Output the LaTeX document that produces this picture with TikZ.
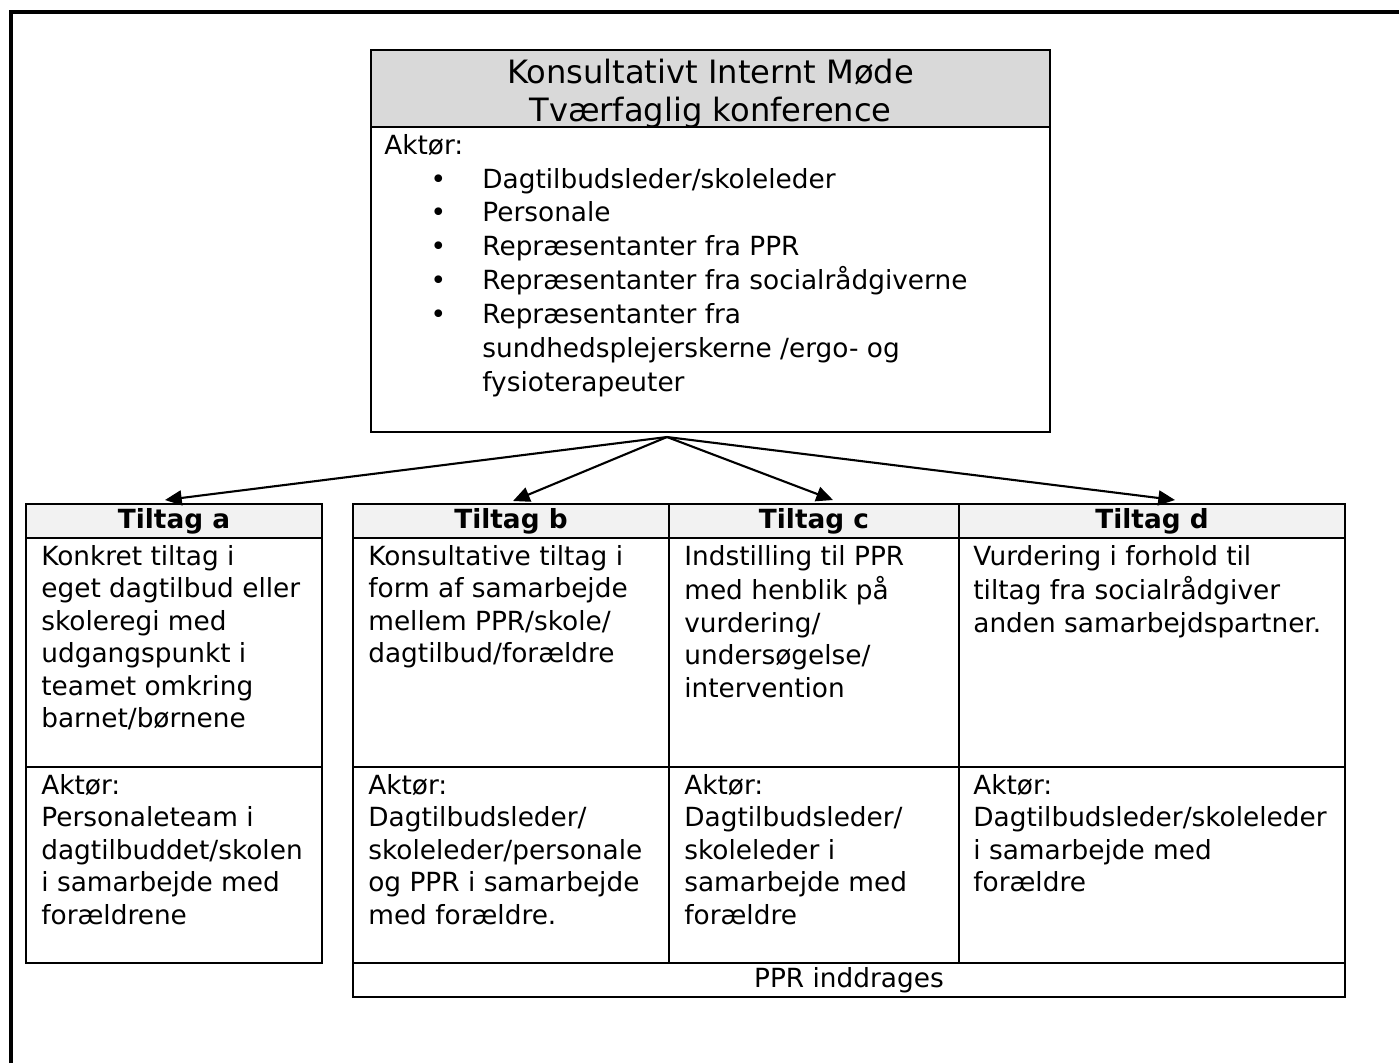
\documentclass[tikz,border=0pt]{standalone}
\usepackage{fontspec}
\setmainfont{DejaVu Sans}
\usepackage{tikz}
\usetikzlibrary{arrows.meta}
\definecolor{hovedgraa}{HTML}{D9D9D9}
\definecolor{lysgraa}{HTML}{F2F2F2}
\newcommand{\pkt}{\hspace*{25.7pt}\makebox[10pt][c]{•}\hspace*{20.1pt}}
\newcommand{\fort}{\hspace*{55.8pt}}

\begin{document}
\begin{tikzpicture}[x=0.02cm, y=-0.02cm,
    box/.style 2 args={draw, line width=1.4pt, inner sep=0pt, outer sep=0pt, anchor=north west,
        minimum width=#1*0.02cm, minimum height=#2*0.02cm},
    txt/.style={anchor=north west, inner sep=0pt, align=left, font=\fontsize{15}{18.5}\selectfont},
    head/.style={font=\bfseries\fontsize{15}{18.5}\selectfont},
    pil/.style={-{Triangle[length=9.5pt,width=8.5pt]}, line width=1.2pt}]
    \useasboundingbox (0,0) rectangle (1399,1063);
    % ramme
    \draw [line width=1.8pt] (11,1063) -- (11,12) -- (1399,12);
    % moedet
    \node [box={679}{77}, fill=hovedgraa] (mode) at (371,50) {};
    \node [box={679}{305}] (modebund) at (371,127) {};
    \node [align=center, font=\fontsize{18.3}{21.5}\selectfont] (titel) at ([yshift=-3]mode.center) {Konsultativt Internt Møde\\Tværfaglig konference};
    \node [txt, font=\fontsize{15}{19.3}\selectfont] (aktorer) at ([shift={(13,3)}]modebund.north west) {\strut Aktør:\\
        \pkt Dagtilbudsleder/skoleleder\\
        \pkt Personale\\
        \pkt Repræsentanter fra PPR\\
        \pkt Repræsentanter fra socialrådgiverne\\
        \pkt Repræsentanter fra\\
        \fort sundhedsplejerskerne /ergo- og\\
        \fort fysioterapeuter};
    % tiltag a
    \node [box={296}{34}, fill=lysgraa, head] (ha) at (26,504) {Tiltag a};
    \node [box={296}{229}] (ta) at (26,538) {};
    \node [box={296}{196}] (aa) at (26,767) {};
    \node [txt] (tekstA) at ([shift={(15,4)}]ta.north west) {\strut Konkret tiltag i\\eget dagtilbud eller\\skoleregi med\\udgangspunkt i\\teamet omkring\\barnet/børnene};
    \node [txt] (aktorA) at ([shift={(15,4)}]aa.north west) {\strut Aktør:\\Personaleteam i\\dagtilbuddet/skolen\\i samarbejde med\\forældrene};
    % tiltag b
    \node [box={316}{34}, fill=lysgraa, head] (hb) at (353,504) {Tiltag b};
    \node [box={316}{229}] (tb) at (353,538) {};
    \node [box={316}{196}] (ab) at (353,767) {};
    \node [txt] (tekstB) at ([shift={(15,4)}]tb.north west) {\strut Konsultative tiltag i\\form af samarbejde\\mellem PPR/skole/\\dagtilbud/forældre};
    \node [txt] (aktorB) at ([shift={(15,4)}]ab.north west) {\strut Aktør:\\Dagtilbudsleder/\\skoleleder/personale\\og PPR i samarbejde\\med forældre.};
    % tiltag c
    \node [box={290}{34}, fill=lysgraa, head] (hc) at (669,504) {Tiltag c};
    \node [box={290}{229}] (tc) at (669,538) {};
    \node [box={290}{196}] (ac) at (669,767) {};
    \node [txt] (tekstC) at ([shift={(15,4)}]tc.north west) {\strut Indstilling til PPR\\med henblik på\\vurdering/\\undersøgelse/\\intervention};
    \node [txt] (aktorC) at ([shift={(15,4)}]ac.north west) {\strut Aktør:\\Dagtilbudsleder/\\skoleleder i\\samarbejde med\\forældre};
    % tiltag d
    \node [box={386}{34}, fill=lysgraa, head] (hd) at (959,504) {Tiltag d};
    \node [box={386}{229}] (td) at (959,538) {};
    \node [box={386}{196}] (ad) at (959,767) {};
    \node [txt] (tekstD) at ([shift={(14,4)}]td.north west) {\strut Vurdering i forhold til\\tiltag fra socialrådgiver\\anden samarbejdspartner.};
    \node [txt] (aktorD) at ([shift={(14,4)}]ad.north west) {\strut Aktør:\\Dagtilbudsleder/skoleleder\\i samarbejde med\\forældre};
    % PPR
    \node [box={992}{34}, font=\fontsize{15}{18.5}\selectfont] (ppr) at (353,963) {PPR inddrages};
    % pile
    \coordinate (fra) at (667,437);
    \draw [pil] (fra) -- ([shift={(-9,-4)}]ha.north);
    \draw [pil] (fra) -- ([shift={(2,-3)}]hb.north);
    \draw [pil] (fra) -- ([shift={(19,-4)}]hc.north);
    \draw [pil] (fra) -- ([shift={(23,-4)}]hd.north);
\end{tikzpicture}
\end{document}
